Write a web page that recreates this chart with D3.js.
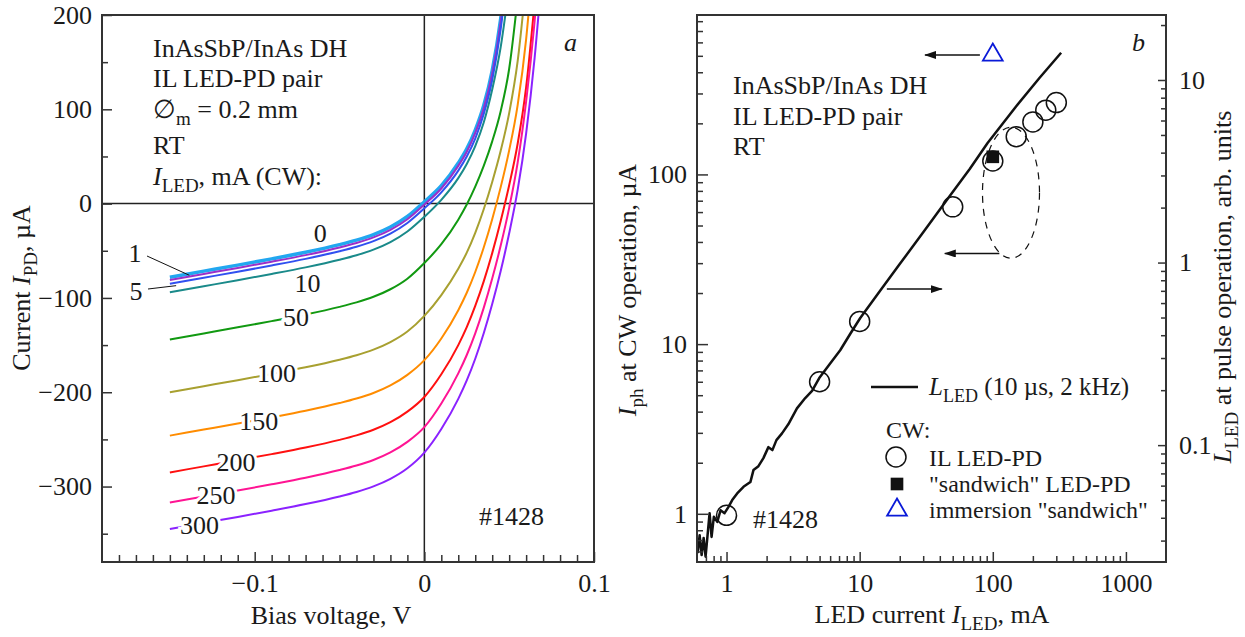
<!DOCTYPE html>
<html>
<head>
<meta charset="utf-8">
<script src="https://cdn.jsdelivr.net/npm/d3@7"></script>
<style>
  body { margin: 0; background: #fff; }
  svg text { font-family: "Liberation Serif", "Times New Roman", serif; fill: #1a1a1a; }
</style>
</head>
<body>
<div id="chart"></div>
<script>
// ---- panel a: I-V curves of the PD at different LED currents ----
const biasV = [-0.15, -0.13, -0.11, -0.09, -0.07, -0.05, -0.04, -0.03, -0.02, -0.01, 0,
  0.01, 0.02, 0.025, 0.03, 0.035, 0.04, 0.045, 0.05, 0.055, 0.06, 0.065, 0.07];

const ledCurrents = ["0", "1", "5", "10", "50", "100", "150", "200", "250", "300"];

const iPD_0   = [-78, -71.6, -65.2, -58.6, -51.6, -43.5, -38.7, -32.8, -24.8, -13.6, 2, 19, 43, 58, 78, 104, 141, 196, 276, null, null, null, null];
const iPD_1   = [-81, -74.6, -68.2, -61.6, -54.6, -46.5, -41.7, -35.8, -27.8, -16.6, -1, 16, 40, 55, 75, 101, 138, 193, 273, null, null, null, null];
const iPD_5   = [-85, -78.6, -72.2, -65.6, -58.6, -50.5, -45.7, -39.8, -31.8, -20.6, -5, 12, 35, 50, 69, 95, 131, 185, 263, null, null, null, null];
const iPD_10  = [-94, -87.6, -81.2, -74.6, -67.6, -59.5, -54.7, -48.8, -40.8, -29.6, -14, 4, 27, 42, 61, 86, 121, 166, 231, null, null, null, null];
const iPD_50  = [-144, -137.6, -131.2, -124.6, -117.6, -109.5, -104.7, -98.8, -90.8, -79.6, -63, -43, -17, -1, 18, 40, 66, 98, 143, 218, null, null, null];
const iPD_100 = [-200, -193.6, -187.2, -180.6, -173.6, -165.5, -160.7, -154.8, -146.8, -135.6, -119, -97, -69, -52, -31, -6, 23, 56, 96, 151, 236, null, null];
const iPD_150 = [-246, -239.6, -233.2, -226.6, -219.6, -211.5, -206.7, -200.8, -192.8, -181.6, -166, -143, -113, -94.5, -72.5, -46.5, -16.5, 17.5, 56.5, 104.5, 174.5, 279.5, null];
const iPD_200 = [-285, -278.6, -272.2, -265.6, -258.6, -250.5, -245.7, -239.8, -231.8, -220.6, -205, -181, -150, -131, -108.5, -82.5, -52.5, -18.5, 19.5, 63.5, 123.5, 213.5, null];
const iPD_250 = [-317, -310.6, -304.2, -297.6, -290.6, -282.5, -277.7, -271.8, -263.8, -252.6, -237, -212, -180, -160.5, -137.5, -110.5, -79.5, -44.5, -4.5, 43.5, 108.5, 193.5, 303.5];
const iPD_300 = [-345, -338.6, -332.2, -325.6, -318.6, -310.5, -305.7, -299.8, -291.8, -280.6, -264, -239, -207, -187.5, -164.5, -137.5, -106.5, -71.5, -31.5, 14.5, 74.5, 154.5, 259.5];

const ipdSeries = [iPD_0, iPD_1, iPD_5, iPD_10, iPD_50, iPD_100, iPD_150, iPD_200, iPD_250, iPD_300];
const curveColors = ["#22a7f0", "#9b30c8", "#3050f0", "#1a8a8a", "#119911", "#a8a030", "#ff8c00", "#ff1010", "#ff1493", "#8b22ff"];

const aYTicks = [-300, -200, -100, 0, 100, 200];
const aXTicks = [-0.1, 0, 0.1];

// ---- panel b: LED pulse output and CW photocurrent ----
const ledCurrentPulse = [0.607, 0.628, 0.650, 0.673, 0.696, 0.746, 0.772, 0.803, 0.852, 0.902, 0.966, 1.035,
  1.103, 1.202, 1.341, 1.436, 1.512, 1.593, 1.736, 1.892, 2.063, 2.21, 2.37, 2.61, 2.91, 3.38, 3.90, 4.39,
  4.97, 5.81, 7.14, 8.46, 10.1, 14.2, 20.0, 30.9, 47.5, 67.1, 91.4, 149, 224, 326];
const lLedPulse = [0.0256, 0.0321, 0.0250, 0.0310, 0.0245, 0.0424, 0.0314, 0.0405, 0.0380, 0.0440, 0.0424, 0.0459,
  0.0500, 0.0544, 0.0591, 0.0612, 0.0629, 0.0730, 0.0767, 0.0849, 0.0975, 0.0939, 0.1065, 0.116, 0.130, 0.159, 0.181, 0.198,
  0.233, 0.271, 0.331, 0.405, 0.497, 0.698, 0.981, 1.507, 2.314, 3.253, 4.516, 7.14, 10.26, 14.1];

const ilCurrent = [1, 5, 10, 50, 100, 150, 200, 250, 300];
const ilPhoto   = [0.98, 6.0, 13.6, 64.4, 120, 167, 204, 239, 265];
const sandwichCurrent = [100];
const sandwichPhoto   = [127];
const immersionCurrent = [100];
const immersionPhoto   = [506];

const bXTicks = [1, 10, 100, 1000];
const bYLTicks = [1, 10, 100];
const bYRTicks = [0.1, 1, 10];

// ---------------------------------------------------------------
const W = 1245, H = 637;
const svg = d3.select("#chart").append("svg").attr("width", W).attr("height", H);
const defs = svg.append("defs");
const FS = 26;
const SUB = 19;
const ink = "#333";
const serif = '"Liberation Serif", "Times New Roman", serif';

defs.append("marker").attr("id", "arrow").attr("viewBox", "0 0 12 8")
  .attr("refX", 11).attr("refY", 4).attr("markerWidth", 12).attr("markerHeight", 8)
  .attr("markerUnits", "userSpaceOnUse").attr("orient", "auto")
  .append("path").attr("d", "M0,0L12,4L0,8z").attr("fill", "#111");

function styleAxis(g) {
  g.attr("font-family", serif);
  g.select(".domain").remove();
  g.selectAll(".tick line").attr("stroke", ink).attr("stroke-width", 1.5);
  g.selectAll(".tick text").attr("font-size", FS).attr("fill", "#1a1a1a");
}
const fmtMinus = d => d < 0 ? "\u2212" + Math.abs(d) : String(d);

function addText(g, x, y, parts, opts = {}) {
  const size = opts.size || FS;
  const t = g.append("text").attr("x", x).attr("y", y).attr("font-size", size);
  if (opts.anchor) t.attr("text-anchor", opts.anchor);
  if (opts.transform) t.attr("transform", opts.transform).attr("x", 0).attr("y", 0);
  let shift = 0;
  parts.forEach(p => {
    const s = t.append("tspan").text(p.t);
    const target = p.sub ? 7 : 0;
    if (target !== shift) { s.attr("dy", target - shift); shift = target; }
    if (p.sub) s.attr("font-size", Math.round(size * 0.73));
    if (p.i) s.attr("font-style", "italic");
  });
  return t;
}

// ================= panel a =================
const ax = d3.scaleLinear().domain([-0.19, 0.1]).range([102, 594]);
const ay = d3.scaleLinear().domain([-380, 200]).range([562, 15]);
const ga = svg.append("g");

defs.append("clipPath").attr("id", "clipA").append("rect")
  .attr("x", 102).attr("y", 15).attr("width", 492).attr("height", 547);

// zero lines
ga.append("line").attr("x1", ax(0)).attr("x2", ax(0)).attr("y1", ay.range()[0]).attr("y2", ay.range()[1])
  .attr("stroke", "#222").attr("stroke-width", 1.5);
ga.append("line").attr("x1", ax.range()[0]).attr("x2", ax.range()[1]).attr("y1", ay(0)).attr("y2", ay(0))
  .attr("stroke", "#222").attr("stroke-width", 1.5);

const ivLine = d3.line().defined(d => d[1] != null)
  .x(d => ax(d[0])).y(d => ay(d[1])).curve(d3.curveMonotoneX);

const curvesA = ga.append("g").attr("clip-path", "url(#clipA)");
ipdSeries.forEach((vals, i) => {
  curvesA.append("path")
    .datum(biasV.map((v, j) => [v, vals[j]]))
    .attr("d", ivLine)
    .attr("fill", "none")
    .attr("stroke", curveColors[i])
    .attr("stroke-width", i === 0 ? 3.5 : 2);
});

// curve labels (data-space anchor points)
const curveLabelPos = [
  [-0.0614, -32], [null, null], [null, null], [-0.0688, -85], [-0.0757, -121],
  [-0.0871, -180], [-0.0976, -231], [-0.111, -275], [-0.1228, -310], [-0.1326, -341]
];
curveLabelPos.forEach((p, i) => {
  if (p[0] == null) return;
  ga.append("text").attr("x", ax(p[0])).attr("y", ay(p[1]))
    .attr("text-anchor", "middle").attr("dominant-baseline", "central")
    .attr("font-size", FS)
    .attr("stroke", "#fff").attr("stroke-width", 6).attr("paint-order", "stroke")
    .text(ledCurrents[i]);
});
// leader labels for 1 and 5 mA
[[1, -0.1385, -76, 135, 253], [2, -0.1463, -87, 136, 291]].forEach(([i, v, c, tx, ty]) => {
  ga.append("line").attr("x1", tx + 12).attr("y1", ty + (i === 1 ? 3 : -2))
    .attr("x2", ax(v)).attr("y2", ay(c)).attr("stroke", "#111").attr("stroke-width", 1);
  ga.append("text").attr("x", tx).attr("y", ty).attr("text-anchor", "middle")
    .attr("dominant-baseline", "central").attr("font-size", FS).text(ledCurrents[i]);
});

// axes
ga.append("g").attr("transform", `translate(${ax.range()[0]},0)`)
  .call(d3.axisLeft(ay).tickValues(aYTicks).tickSize(-10).tickPadding(10).tickFormat(fmtMinus)).call(styleAxis);
ga.append("g").attr("transform", `translate(${ax.range()[0]},0)`)
  .call(d3.axisLeft(ay).tickValues(d3.range(-350, 200, 100)).tickSize(-6).tickFormat("")).call(styleAxis);
ga.append("g").attr("transform", `translate(0,${ay.range()[0]})`)
  .call(d3.axisBottom(ax).tickValues(aXTicks).tickSize(-10).tickPadding(12).tickFormat(fmtMinus)).call(styleAxis);
ga.append("g").attr("transform", `translate(0,${ay.range()[0]})`)
  .call(d3.axisBottom(ax).tickValues(d3.range(-18, 10).map(k => k / 100).filter(v => Math.abs(v * 10 - Math.round(v * 10)) > 1e-6))
    .tickSize(-7).tickFormat("")).call(styleAxis);

ga.append("rect").attr("x", 102).attr("y", 15).attr("width", 492).attr("height", 547)
  .attr("fill", "none").attr("stroke", ink).attr("stroke-width", 2);

// texts
addText(ga, 153, 57, [{ t: "InAsSbP/InAs DH" }]);
addText(ga, 153, 87, [{ t: "IL LED-PD pair" }]);
addText(ga, 153, 118, [{ t: "\u2205" }, { t: "m", sub: true }, { t: " = 0.2 mm" }]);
addText(ga, 153, 154, [{ t: "RT" }]);
addText(ga, 153, 185, [{ t: "I", i: true }, { t: "LED", sub: true }, { t: ", mA (CW):" }]);
addText(ga, 564, 51, [{ t: "a", i: true }]);
addText(ga, 479, 525, [{ t: "#1428" }]);
addText(ga, 331, 624, [{ t: "Bias voltage, V" }], { anchor: "middle" });
addText(ga, 0, 0, [{ t: "Current " }, { t: "I", i: true }, { t: "PD", sub: true }, { t: ", \u00b5A" }],
  { anchor: "middle", transform: "translate(30,288) rotate(-90)" });

// ================= panel b =================
const bx = d3.scaleLog().domain([0.6, 2000]).range([697, 1166]);
const byL = d3.scaleLog().domain([0.52, 870]).range([562, 15]);
const byR = d3.scaleLog().domain([0.0229, 22.7]).range([562, 15]);
const gb = svg.append("g");

defs.append("clipPath").attr("id", "clipB").append("rect")
  .attr("x", 697).attr("y", 15).attr("width", 469).attr("height", 547);

const pulseLine = d3.line().x(d => bx(d[0])).y(d => byR(d[1]));
gb.append("path").attr("clip-path", "url(#clipB)")
  .datum(ledCurrentPulse.map((c, j) => [c, lLedPulse[j]]))
  .attr("d", pulseLine).attr("fill", "none").attr("stroke", "#111").attr("stroke-width", 2.5)
  .attr("stroke-linejoin", "round");

// dashed ellipse grouping the 100 mA points
gb.append("ellipse").attr("cx", bx(137)).attr("cy", byL(78)).attr("rx", 28.5).attr("ry", 65.5)
  .attr("fill", "none").attr("stroke", "#111").attr("stroke-width", 1.2).attr("stroke-dasharray", "7,6");

// arrows (data-space)
const arrows = [
  { from: [80, 506], to: [31, 506] },
  { from: [112, 34.2], to: [43.6, 34.2] },
  { from: [16, 21.1], to: [41.4, 21.1] }
];
arrows.forEach(a => {
  gb.append("line").attr("x1", bx(a.from[0])).attr("y1", byL(a.from[1]))
    .attr("x2", bx(a.to[0])).attr("y2", byL(a.to[1]))
    .attr("stroke", "#111").attr("stroke-width", 1.5).attr("marker-end", "url(#arrow)");
});

gb.selectAll("circle.il").data(ilCurrent).join("circle").attr("class", "il")
  .attr("cx", d => bx(d)).attr("cy", (d, i) => byL(ilPhoto[i])).attr("r", 10)
  .attr("fill", "none").attr("stroke", "#111").attr("stroke-width", 1.5);
gb.selectAll("path.sw").data(sandwichCurrent).join("path").attr("class", "sw")
  .attr("transform", (d, i) => `translate(${bx(d)},${byL(sandwichPhoto[i])})`)
  .attr("d", d3.symbol(d3.symbolSquare, 160)).attr("fill", "#111");
gb.selectAll("path.im").data(immersionCurrent).join("path").attr("class", "im")
  .attr("transform", (d, i) => `translate(${bx(d)},${byL(immersionPhoto[i])})`)
  .attr("d", d3.symbol(d3.symbolTriangle, 170)).attr("fill", "none").attr("stroke", "#0a1ad8").attr("stroke-width", 1.8);

// axes
function logMinor(lo, hi) {
  const out = [];
  for (let e = -3; e <= 4; e++) for (let m = 2; m <= 9; m++) {
    const v = m * Math.pow(10, e);
    if (v > lo * 1.001 && v < hi * 0.999) out.push(v);
  }
  return out;
}
gb.append("g").attr("transform", `translate(${bx.range()[0]},0)`)
  .call(d3.axisLeft(byL).tickValues(bYLTicks).tickSize(-11).tickPadding(10).tickFormat(d3.format("d"))).call(styleAxis);
gb.append("g").attr("transform", `translate(${bx.range()[0]},0)`)
  .call(d3.axisLeft(byL).tickValues(logMinor(0.52, 870)).tickSize(-6).tickFormat("")).call(styleAxis);
gb.append("g").attr("transform", `translate(${bx.range()[1]},0)`)
  .call(d3.axisRight(byR).tickValues(bYRTicks).tickSize(-8).tickPadding(13).tickFormat(d => String(d))).call(styleAxis);
gb.append("g").attr("transform", `translate(${bx.range()[1]},0)`)
  .call(d3.axisRight(byR).tickValues(logMinor(0.0229, 22.7)).tickSize(-5).tickFormat("")).call(styleAxis);
gb.append("g").attr("transform", `translate(0,${byL.range()[0]})`)
  .call(d3.axisBottom(bx).tickValues(bXTicks).tickSize(-10).tickPadding(12).tickFormat(d3.format("d"))).call(styleAxis);
gb.append("g").attr("transform", `translate(0,${byL.range()[0]})`)
  .call(d3.axisBottom(bx).tickValues(logMinor(0.65, 1900)).tickSize(-6).tickFormat("")).call(styleAxis);

gb.append("rect").attr("x", 697).attr("y", 15).attr("width", 469).attr("height", 547)
  .attr("fill", "none").attr("stroke", ink).attr("stroke-width", 2);

// texts
addText(gb, 733, 94, [{ t: "InAsSbP/InAs DH" }]);
addText(gb, 733, 125, [{ t: "IL LED-PD pair" }]);
addText(gb, 733, 155, [{ t: "RT" }]);
addText(gb, 1132, 51, [{ t: "b", i: true }]);
addText(gb, 753, 528, [{ t: "#1428" }]);

// legend
const LFS = 24;
gb.append("line").attr("x1", 871).attr("x2", 918).attr("y1", 387).attr("y2", 387)
  .attr("stroke", "#111").attr("stroke-width", 2.5);
addText(gb, 929, 395, [{ t: "L", i: true }, { t: "LED", sub: true }, { t: " (10 \u00b5s, 2 kHz)" }], { size: 25 });
addText(gb, 886, 438, [{ t: "CW:" }], { size: LFS });
gb.append("circle").attr("cx", 896).attr("cy", 457).attr("r", 10)
  .attr("fill", "none").attr("stroke", "#111").attr("stroke-width", 1.5);
addText(gb, 929, 466, [{ t: "IL LED-PD" }], { size: LFS });
gb.append("path").attr("transform", "translate(897,484)").attr("d", d3.symbol(d3.symbolSquare, 160)).attr("fill", "#111");
addText(gb, 929, 492, [{ t: "\"sandwich\" LED-PD" }], { size: LFS });
gb.append("path").attr("transform", "translate(897,510)").attr("d", d3.symbol(d3.symbolTriangle, 170))
  .attr("fill", "none").attr("stroke", "#0a1ad8").attr("stroke-width", 1.8);
addText(gb, 929, 518, [{ t: "immersion \"sandwich\"" }], { size: LFS });

addText(gb, 932, 623, [{ t: "LED current " }, { t: "I", i: true }, { t: "LED", sub: true }, { t: ", mA" }], { anchor: "middle" });
addText(gb, 0, 0, [{ t: "I", i: true }, { t: "ph", sub: true }, { t: " at CW operation, \u00b5A" }],
  { anchor: "middle", transform: "translate(636,290) rotate(-90)" });
addText(gb, 0, 0, [{ t: "L", i: true }, { t: "LED", sub: true }, { t: " at pulse operation, arb. units" }],
  { anchor: "middle", transform: "translate(1231,287) rotate(-90)" });
</script>
</body>
</html>
